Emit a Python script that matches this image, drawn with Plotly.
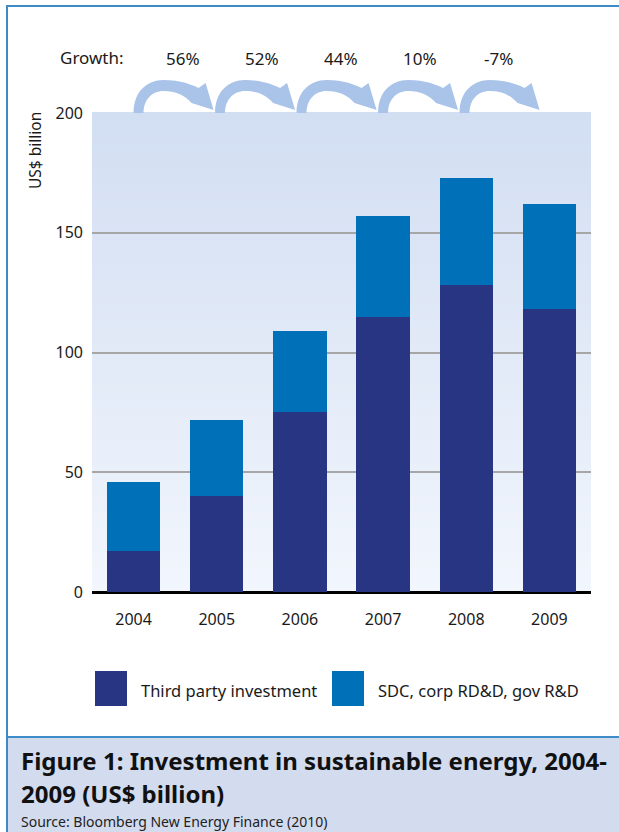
import plotly.graph_objects as go

years = ["2004", "2005", "2006", "2007", "2008", "2009"]
third_party = [17, 40, 75, 115, 128, 118]
totals = [46, 72, 109, 157, 173, 162]
sdc = [t - p for t, p in zip(totals, third_party)]
growth = ["56%", "52%", "44%", "10%", "-7%"]
series_names = ["Third party investment", "SDC, corp RD&D, gov R&D"]
y_ticks = [0, 50, 100, 150, 200]

DARK = "#283583"
BLUE = "#0070b8"
FRAME = "#3d8cc8"
FONT = "Noto Sans"
TXT = "#1a1a1a"

W, H = 619, 832
L, R, T, B = 92, 591, 113, 592  # plot area in px

def px(x):
    return (x - L) / (R - L)

def py(y):
    return (B - y) / (B - T)

fig = go.Figure()
fig.add_trace(go.Bar(x=years, y=third_party, name=series_names[0], marker=dict(color=DARK, line=dict(width=0))))
fig.add_trace(go.Bar(x=years, y=sdc, name=series_names[1], marker=dict(color=BLUE, line=dict(width=0))))

shapes = []
# gradient background of plot area
n = 60
top_c = (0xD2, 0xDE, 0xF2)
bot_c = (0xF2, 0xF6, 0xFD)
for i in range(n):
    f = (i + 0.5) / n
    c = tuple(round(b + (t - b) * f) for t, b in zip(top_c, bot_c))
    shapes.append(dict(type="rect", xref="paper", yref="paper", x0=0, x1=1,
                       y0=i / n, y1=(i + 1) / n + 0.002, fillcolor="rgb(%d,%d,%d)" % c,
                       line=dict(width=0), layer="below"))

# frame
shapes.append(dict(type="line", xref="paper", yref="paper", x0=px(7), x1=px(7), y0=py(5), y1=py(840),
                   line=dict(color=FRAME, width=2)))
shapes.append(dict(type="line", xref="paper", yref="paper", x0=px(7), x1=px(625), y0=py(6), y1=py(6),
                   line=dict(color=FRAME, width=2)))
# caption box
shapes.append(dict(type="rect", xref="paper", yref="paper", x0=px(8), x1=px(625), y0=py(737), y1=py(840),
                   fillcolor="#d3dcee", line=dict(width=0)))
shapes.append(dict(type="line", xref="paper", yref="paper", x0=px(7), x1=px(625), y0=py(737), y1=py(737),
                   line=dict(color=FRAME, width=2)))

# growth arrows (px offsets relative to arrow start and plot top)
step = (R - L) / len(years)
def centre(i):
    return L + step * (i + 0.5)

def arrow_start(i):
    return centre(0) + 81.5 * i

arrow_pts = [
    ("M", [(0, 0)]),
    ("C", [(0, -21), (13, -33), (30, -33)]),
    ("C", [(47, -33), (59, -28), (65, -25)]),
    ("L", [(72, -30)]),
    ("L", [(80, -3)]),
    ("L", [(58, -10)]),
    ("C", [(51, -18), (42, -22), (30, -22)]),
    ("C", [(18, -22), (10, -13), (10, 0)]),
]
for i in range(len(growth)):
    cx = arrow_start(i)
    parts = []
    for cmd, pts in arrow_pts:
        parts.append(cmd + " " + " ".join("%.5f,%.5f" % (px(cx + dx), py(T + dy)) for dx, dy in pts))
    path = " ".join(parts) + " Z"
    shapes.append(dict(type="path", xref="paper", yref="paper", path=path,
                       fillcolor="#a9c3e9", line=dict(width=0)))

# legend squares
leg_x = [(95, 127), (332, 364)]
for (a, b), col in zip(leg_x, [DARK, BLUE]):
    shapes.append(dict(type="rect", xref="paper", yref="paper", x0=px(a), x1=px(b),
                       y0=py(706), y1=py(671), fillcolor=col, line=dict(width=0)))

def ann(x, y, text, size, xanchor="center", yanchor="middle", color=TXT, **kw):
    return dict(x=x, y=y, xref="paper", yref="paper", text=text, showarrow=False,
                xanchor=xanchor, yanchor=yanchor, font=dict(size=size, color=color, family=FONT), **kw)

annotations = []
for yr, t in zip(years, totals):
    annotations.append(dict(x=yr, y=t, xref="x", yref="y", text=str(t), showarrow=False,
                            xanchor="center", yanchor="bottom", yshift=12,
                            font=dict(size=17, color=TXT, family=FONT)))
annotations.append(ann(px(92), py(57), "Growth:", 17))
for i, g in enumerate(growth):
    annotations.append(ann(px(arrow_start(i) + 49 - 2.5 * i), py(58), g, 17))
annotations.append(ann(px(35), py(151), "US$ billion", 15.5, textangle=-90))
for (a, b), name in zip(leg_x, series_names):
    annotations.append(ann(px(b + 12), py(690), name, 16.5, xanchor="left"))
annotations.append(ann(px(19), py(760), "<b>Figure 1: Investment in sustainable energy, 2004-</b>", 24,
                       xanchor="left", color="#111111"))
annotations.append(ann(px(19), py(793), "<b>2009 (US$ billion)</b>", 24, xanchor="left", color="#111111"))
annotations.append(ann(px(19), py(821), "Source: Bloomberg New Energy Finance (2010)", 14,
                       xanchor="left", color="#222222"))

fig.update_layout(
    width=W, height=H,
    margin=dict(l=L, r=W - R, t=T, b=H - B, pad=0),
    barmode="stack", bargap=0.36,
    paper_bgcolor="white", plot_bgcolor="rgba(0,0,0,0)",
    showlegend=False,
    shapes=shapes, annotations=annotations,
    font=dict(family=FONT, color=TXT),
    xaxis=dict(range=[-0.5, 5.5], showgrid=False, showline=False, zeroline=False,
               ticks="", ticklabelstandoff=16, tickfont=dict(size=16, family=FONT, color=TXT)),
    yaxis=dict(range=[0, 200], tickvals=y_ticks, showgrid=True, gridcolor="#a6a6a6", gridwidth=1.5,
               zeroline=True, zerolinecolor="#000000", zerolinewidth=3, showline=False,
               ticks="", ticklabelstandoff=8, tickfont=dict(size=16, family=FONT, color=TXT)),
)
fig.write_html("out.html", config={"displayModeBar": False},
               post_script="document.body.style.margin='0';document.body.style.padding='0';")
